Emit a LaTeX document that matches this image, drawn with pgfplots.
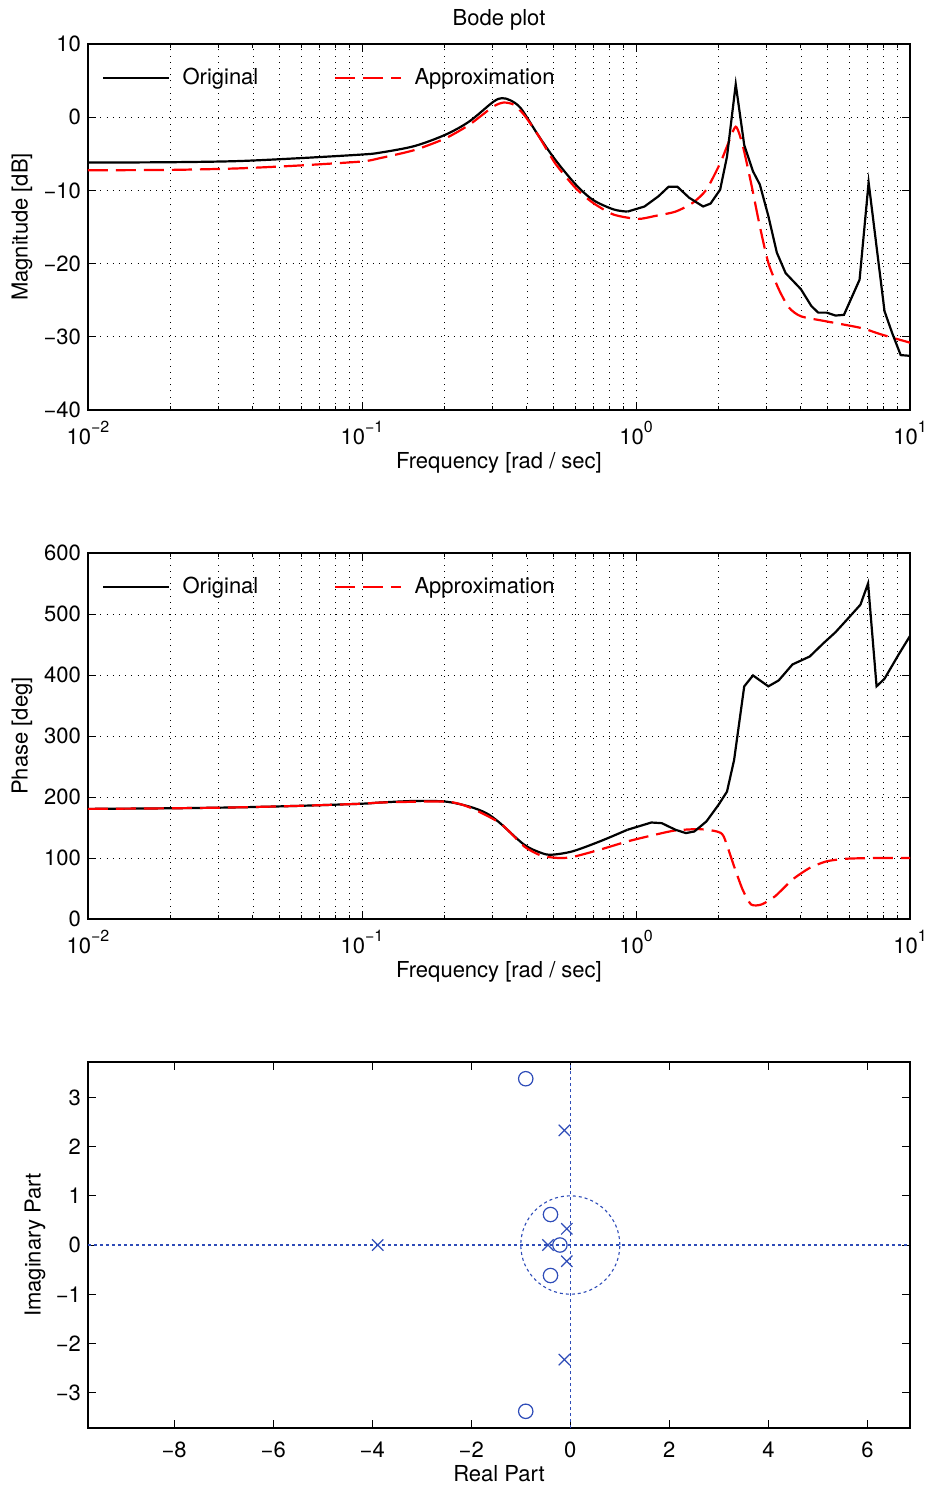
\documentclass[border=0pt]{standalone}
\usepackage{pgfplots}
\pgfplotsset{compat=1.18}
\usepackage{fontspec}
\setmainfont{TeX Gyre Heros}
\definecolor{pzblue}{rgb}{0.18,0.3,0.72}
\newcommand{\tp}[1]{10\raisebox{5.8pt}{\fontsize{8}{9}\selectfont #1}}

\pgfplotsset{
  common/.style={
    scale only axis, width=411pt, height=183pt,
    axis line style={line width=0.6pt, black},
    tick align=inside, xtick pos=both, ytick pos=both,
    major tick length=4pt, minor tick length=2pt,
    every tick/.style={black, line width=0.5pt},
    /pgf/number format/assume math mode=true,
    tick label style={font=\fontsize{11}{13}\selectfont},
    label style={font=\fontsize{11}{13}\selectfont},
    title style={font=\fontsize{11}{13}\selectfont},
    every axis title shift=0pt,
  },
  bode/.style={
    common,
    xmin=0.01, xmax=10,
    xtick={0.01,0.1,1,10},
    xticklabels={\tp{−2},\tp{−1},\tp{0},\tp{1}},
    xticklabel style={yshift=-2pt},
    xmajorgrids, xminorgrids, ymajorgrids,
    grid style={black, line width=0.45pt, dash pattern=on 0.5pt off 2.6pt},
    minor grid style={black, line width=0.45pt, dash pattern=on 0.5pt off 2.6pt},
    xlabel={Frequency [rad / sec]},
    xlabel style={at={(axis description cs:0.5,-0.145)}, anchor=center},
    ylabel style={at={(axis description cs:-0.0803,0.5)}, anchor=center},
    legend style={draw=none, fill=none, at={(axis description cs:0.017,0.907)}, anchor=west,
      inner sep=0pt, font=\fontsize{11}{13}\selectfont,
      /tikz/every odd column/.append style={column sep=4pt},
      /tikz/every even column/.append style={column sep=36pt}},
    legend columns=2, legend cell align=left,
    legend image code/.code={\draw[##1] (0pt,0pt) -- (33pt,0pt);},
  },
  orig/.style={black, line width=1.1pt},
  approx/.style={red, line width=1.1pt, dash pattern=on 10pt off 4pt},
}

\begin{document}
\begin{tikzpicture}
\begin{axis}[xmode=log, bode, at={(0,0)}, anchor=north west,
  ymin=-40, ymax=10, ytick={-40,-30,-20,-10,0,10},
  yticklabels={−40,−30,−20,−10,0,10},
  ylabel={Magnitude [dB]},
  title={Bode plot}, title style={at={(axis description cs:0.5,1)}, anchor=base, yshift=9pt}]
\addplot[orig, smooth, tension=0.5] coordinates {
(0.01,-6.2) (0.02,-6.15) (0.035,-6.0) (0.059,-5.6) (0.1,-5.1) (0.1161,-4.85)
(0.1552,-3.95) (0.2014,-2.4) (0.2460,-0.6) (0.3013,2.1) (0.3243,2.6) (0.3483,2.3)
(0.3802,1.2) (0.4385,-2.4) (0.5070,-5.8) (0.6026,-9.2) (0.6966,-11.3) (0.8279,-12.6)
(0.9311,-12.9)
};
\addlegendentry{Original}
\addplot[approx, smooth, tension=0.4] coordinates {
(0.01,-7.25) (0.02,-7.2) (0.035,-7.0) (0.059,-6.6) (0.1,-6.05) (0.1161,-5.6)
(0.1552,-4.5) (0.2014,-2.9) (0.2460,-1.05) (0.3013,1.45) (0.3289,2.0) (0.3589,1.7)
(0.3908,0.3) (0.4385,-2.4) (0.5070,-6.3) (0.6026,-9.7) (0.6966,-11.7) (0.8279,-13.3)
(1.014,-13.9) (1.172,-13.5) (1.393,-12.9) (1.611,-11.7) (1.807,-9.9) (2.028,-6.3)
(2.148,-4.0) (2.312,-1.3) (2.449,-3.8) (2.630,-9.0) (2.831,-14.9) (3.041,-19.9)
(3.319,-23.5) (3.614,-26.0) (3.999,-27.2) (4.966,-27.9) (6.637,-28.8) (7.889,-29.7)
(10,-30.8)
};
\addlegendentry{Approximation}
\addplot[orig, forget plot] coordinates {
(0.9311,-12.9) (1.074,-12.2) (1.208,-10.8) (1.315,-9.5) (1.416,-9.5) (1.563,-11.0)
(1.758,-12.2) (1.871,-11.8) (2.028,-9.9) (2.148,-5.4) (2.312,4.5) (2.483,-3.8)
(2.673,-7.4) (2.831,-9.2) (3.041,-13.5) (3.266,-18.5) (3.516,-21.3) (3.999,-23.5)
(4.365,-25.8) (4.624,-26.7) (4.966,-26.7) (5.346,-27.1) (5.741,-27.0) (6.546,-22.2)
(7.063,-8.9) (8.072,-26.5) (8.610,-29.5) (9.247,-32.5) (10,-32.6)
};
\end{axis}

\begin{axis}[xmode=log, bode, at={(0,-254.5pt)}, anchor=north west,
  ymin=0, ymax=600, ytick={0,100,...,600},
  ylabel={Phase [deg]}]
\addplot[orig, smooth, tension=0.5] coordinates {
(0.01,180.5) (0.02,181.5) (0.035,183) (0.059,185.5) (0.1,189) (0.1161,190.9)
(0.1552,193.5) (0.2014,192.5) (0.2460,184.4) (0.2844,173.5) (0.3192,157.1)
(0.3908,121.8) (0.4519,108.2) (0.4932,105.4) (0.5861,110.9) (0.7379,127.2)
(0.9311,146.3)
};
\addlegendentry{Original}
\addplot[approx, smooth, tension=0.4] coordinates {
(0.01,180.5) (0.02,181.5) (0.035,183) (0.059,185.5) (0.1,189) (0.1161,190.9)
(0.2014,192.5) (0.2460,183.3) (0.3192,157.1) (0.3908,119.0) (0.4519,103.8)
(0.5224,100) (0.5861,101.6) (0.7379,113.6) (0.9311,127.2) (1.172,138.1) (1.393,145.2)
(1.706,147.3) (1.972,143.5) (2.089,135.4) (2.280,86.4) (2.449,48.3) (2.630,23.8)
(2.871,23.8) (3.221,37.4) (3.724,64.6) (4.305,83.7) (4.966,94.6) (5.916,98.9)
(7.674,100) (10,100)
};
\addlegendentry{Approximation}
\addplot[orig, forget plot] coordinates {
(0.9311,146.3) (1.138,158.2) (1.242,157.1) (1.393,146.3) (1.521,140.8) (1.633,143.5)
(1.807,159.9) (2.000,187.1) (2.148,208.8) (2.280,260.5) (2.483,381.4) (2.673,399.3)
(3.041,381.4) (3.319,391.2) (3.724,417.3) (4.305,430.3) (4.831,452.1) (5.346,470.1)
(5.916,491.8) (6.592,515.2) (7.031,550.1) (7.551,381.4) (8.072,393.9) (9.120,434.7)
(10,464)
};
\end{axis}

\begin{axis}[common, at={(0,-509pt)}, anchor=north west,
  xmin=-9.74, xmax=6.86, ymin=-3.72, ymax=3.72,
  xtick={-8,-6,-4,-2,0,2,4,6}, xticklabels={−8,−6,−4,−2,0,2,4,6},
  xticklabel style={yshift=-3.3pt},
  ytick={-3,-2,-1,0,1,2,3}, yticklabels={−3,−2,−1,0,1,2,3},
  xlabel={Real Part}, ylabel={Imaginary Part},
  xlabel style={at={(axis description cs:0.5,-0.124)}, anchor=center},
  ylabel style={at={(axis description cs:-0.0645,0.5)}, anchor=center}]
\addplot[pzblue, line width=0.55pt, dash pattern=on 1.5pt off 1.5pt] coordinates {(-9.74,0) (6.86,0)};
\addplot[pzblue, line width=0.55pt, dash pattern=on 1.5pt off 1.5pt] coordinates {(0,-3.72) (0,3.72)};
\draw[pzblue, line width=0.55pt, dash pattern=on 1.5pt off 1.5pt] (axis cs:0,0) ellipse [x radius=1, y radius=1];
\addplot[pzblue, only marks, mark=o, mark size=3.6pt, line width=0.6pt] coordinates {
(-0.90,3.38) (-0.90,-3.38) (-0.40,0.62) (-0.40,-0.62) (-0.21,0)
};
\addplot[pzblue, only marks, mark=x, mark size=4pt, line width=0.6pt] coordinates {
(-3.89,0) (-0.12,2.33) (-0.12,-2.33) (-0.07,0.33) (-0.07,-0.33) (-0.45,0)
};
\end{axis}
\pgfresetboundingbox
\path (-44pt,22pt) rectangle (420pt,-721pt);
\end{tikzpicture}
\end{document}
